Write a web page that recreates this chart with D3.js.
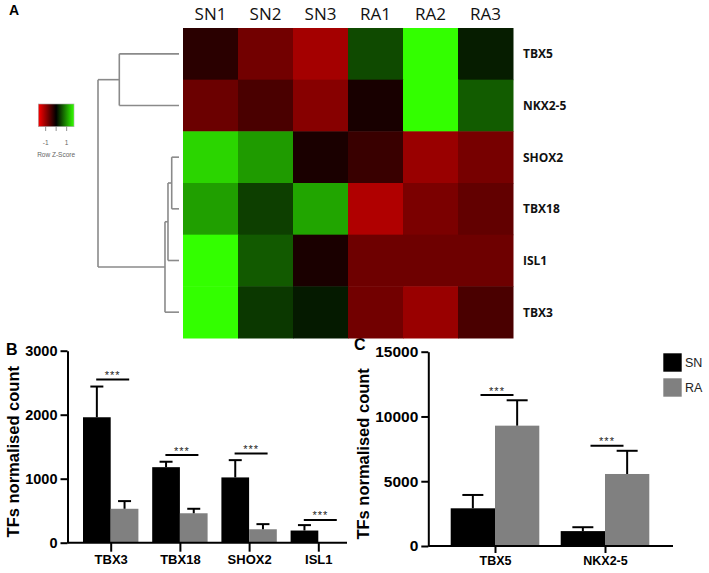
<!DOCTYPE html>
<html>
<head>
<meta charset="utf-8">
<script src="https://cdn.jsdelivr.net/npm/d3@7"></script>
<style>
  html, body { margin: 0; padding: 0; background: #fff; }
  svg { display: block; }
</style>
</head>
<body>
<svg id="chart" width="709" height="573"></svg>
<script>
// ---------------- DATA ----------------
const heatColumns = ["SN1", "SN2", "SN3", "RA1", "RA2", "RA3"];
const heatGenes = ["TBX5", "NKX2-5", "SHOX2", "TBX18", "ISL1", "TBX3"];
const zTBX5  = [-0.28, -0.76, -1.09,  0.49,  1.70,  0.19];
const zNKX25 = [-0.71, -0.49, -0.90, -0.16,  1.70,  0.61];
const zSHOX2 = [ 1.42,  1.03, -0.17, -0.38, -1.02, -0.79];
const zTBX18 = [ 1.06,  0.42,  1.10, -1.17, -0.82, -0.65];
const zISL1  = [ 1.70,  0.60, -0.17, -0.73, -0.73, -0.73];
const zTBX3  = [ 1.70,  0.37,  0.17, -0.76, -1.02, -0.49];
const heatRows = [zTBX5, zNKX25, zSHOX2, zTBX18, zISL1, zTBX3];

// dendrogram merge heights (arbitrary distance units)
const dendroTree = {
  h: 10, children: [
    { h: 7.37, children: [{ name: "TBX5", h: 0 }, { name: "NKX2-5", h: 0 }] },
    { h: 1.73, children: [
        { h: 1.36, children: [
            { h: 0.9, children: [{ name: "SHOX2", h: 0 }, { name: "TBX18", h: 0 }] },
            { name: "ISL1", h: 0 }
        ] },
        { name: "TBX3", h: 0 }
    ] }
  ]
};

const keyTicks = [-1, 0, 1];
const keyLabels = [-1, 1];

// Panel B
const bGenes = ["TBX3", "TBX18", "SHOX2", "ISL1"];
const bSN    = [1960, 1180, 1020, 190];
const bSNerr = [480, 85, 270, 85];
const bRA    = [530, 460, 210, 0];
const bRAerr = [120, 70, 80, 0];
const bSig   = [2550, 1370, 1395, 355];
const bTicks = [0, 1000, 2000, 3000];

// Panel C
const cGenes = ["TBX5", "NKX2-5"];
const cSN    = [2910, 1150];
const cSNerr = [1030, 300];
const cRA    = [9290, 5560];
const cRAerr = [1960, 1790];
const cSig   = [11650, 7740];
const cTicks = [0, 5000, 10000, 15000];

const seriesNames = ["SN", "RA"];
const seriesColors = ["#000000", "#808080"];

// ---------------- DRAW ----------------
const svg = d3.select("#chart");
svg.append("rect").attr("width", 709).attr("height", 573).attr("fill", "#fff");

const boldSans = "'Liberation Sans', Arial, sans-serif";

// Panel letters
svg.append("text").attr("x", 9).attr("y", 15).text("A")
  .attr("font-family", boldSans).attr("font-weight", "bold").attr("font-size", 14);
svg.append("text").attr("x", 6).attr("y", 355).text("B")
  .attr("font-family", boldSans).attr("font-weight", "bold").attr("font-size", 16);
svg.append("text").attr("x", 354).attr("y", 350).text("C")
  .attr("font-family", boldSans).attr("font-weight", "bold").attr("font-size", 16);

// ---- Heatmap ----
const hx = d3.scaleBand().domain(heatColumns).range([183, 513]);
const hy = d3.scaleBand().domain(heatGenes).range([28, 338]);
const color = d3.scaleLinear().domain([-1.7, 0, 1.7])
  .range(["#ff0000", "#000000", "#33ff00"]).clamp(true);

const cells = [];
heatRows.forEach((row, i) => row.forEach((v, j) => cells.push({ g: heatGenes[i], c: heatColumns[j], v })));
svg.append("g").selectAll("rect").data(cells).join("rect")
  .attr("x", d => hx(d.c)).attr("y", d => hy(d.g))
  .attr("width", hx.bandwidth() + 0.5).attr("height", hy.bandwidth() + 0.5)
  .attr("fill", d => color(d.v));

svg.append("g").selectAll("text").data(heatColumns).join("text")
  .attr("x", d => hx(d) + hx.bandwidth() / 2).attr("y", 20)
  .attr("text-anchor", "middle")
  .attr("font-family", "'Open Sans', sans-serif").attr("font-size", 17)
  .attr("fill", "#111").text(d => d);

svg.append("g").selectAll("text").data(heatGenes).join("text")
  .attr("x", 523).attr("y", d => hy(d) + hy.bandwidth() / 2)
  .attr("dominant-baseline", "central")
  .attr("font-family", "'Open Sans', sans-serif").attr("font-weight", "bold")
  .attr("font-size", 12).attr("fill", "#111").text(d => d);

// ---- Dendrogram ----
const root = d3.hierarchy(dendroTree);
const dx = d3.scaleLinear().domain([0, 10]).range([179, 98]);
root.eachAfter(n => {
  if (!n.children) n.yy = hy(n.data.name) + hy.bandwidth() / 2;
  else n.yy = d3.mean(n.children, c => c.yy);
});
const dg = svg.append("g").attr("fill", "none").attr("stroke", "#8a8a8a").attr("stroke-width", 1.6);
root.each(n => {
  if (!n.children) return;
  const ys = n.children.map(c => c.yy);
  dg.append("line").attr("x1", dx(n.data.h)).attr("x2", dx(n.data.h))
    .attr("y1", d3.min(ys)).attr("y2", d3.max(ys));
  n.children.forEach(c => {
    dg.append("line").attr("x1", dx(n.data.h)).attr("x2", dx(c.data.h))
      .attr("y1", c.yy).attr("y2", c.yy);
  });
});

// ---- Color key ----
const kx = d3.scaleLinear().domain([-1.7, 1.7]).range([38.3, 74]);
const defs = svg.append("defs");
const grad = defs.append("linearGradient").attr("id", "keygrad");
d3.range(0, 1.0001, 0.1).forEach(t => {
  grad.append("stop").attr("offset", t).attr("stop-color", color(-1.7 + 3.4 * t));
});
svg.append("rect").attr("x", kx(-1.7)).attr("y", 104)
  .attr("width", kx(1.7) - kx(-1.7)).attr("height", 22.7)
  .attr("fill", "url(#keygrad)").attr("stroke", "#aaa").attr("stroke-width", 0.6);
svg.append("g").selectAll("line").data(keyTicks).join("line")
  .attr("x1", d => kx(d)).attr("x2", d => kx(d)).attr("y1", 126.7).attr("y2", 131)
  .attr("stroke", "#777").attr("stroke-width", 0.8);
svg.append("g").selectAll("text").data(keyLabels).join("text")
  .attr("x", d => kx(d)).attr("y", 145).attr("text-anchor", "middle")
  .attr("font-family", boldSans).attr("font-size", 6.5).attr("fill", "#666").text(d => d);
svg.append("text").attr("x", kx(0)).attr("y", 157).attr("text-anchor", "middle")
  .attr("font-family", boldSans).attr("font-size", 6.5).attr("fill", "#666").text("Row Z-Score");

// ---- Bar panels ----
function barPanel(opt) {
  const g = svg.append("g");
  const y = d3.scaleLinear().domain(opt.yDomain).range(opt.yRange);
  const x = d3.scalePoint().domain(opt.genes).range(opt.xRange);
  const bw = opt.barWidth;

  // bars
  const bars = [];
  opt.genes.forEach((gname, i) => {
    bars.push({ g: gname, s: 0, v: opt.sn[i], e: opt.snErr[i] });
    bars.push({ g: gname, s: 1, v: opt.ra[i], e: opt.raErr[i] });
  });
  g.append("g").selectAll("rect").data(bars.filter(b => b.v > 0)).join("rect")
    .attr("x", d => x(d.g) + (d.s === 0 ? -bw : 0))
    .attr("y", d => y(d.v)).attr("width", bw)
    .attr("height", d => y(0) - y(d.v))
    .attr("fill", d => seriesColors[d.s]);

  // error bars
  const eb = g.append("g").attr("stroke", "#000").attr("stroke-width", 2);
  bars.filter(b => b.e > 0).forEach(d => {
    const cx = x(d.g) + (d.s === 0 ? -bw / 2 : bw / 2);
    eb.append("line").attr("x1", cx).attr("x2", cx).attr("y1", y(d.v)).attr("y2", y(d.v + d.e));
    eb.append("line").attr("x1", cx - opt.cap / 2).attr("x2", cx + opt.cap / 2)
      .attr("y1", y(d.v + d.e)).attr("y2", y(d.v + d.e));
  });

  // significance
  opt.genes.forEach((gname, i) => {
    const cx = x(gname) + 2;
    g.append("line").attr("x1", cx - 16.5).attr("x2", cx + 16.5)
      .attr("y1", y(opt.sig[i])).attr("y2", y(opt.sig[i]))
      .attr("stroke", "#000").attr("stroke-width", 2);
    g.append("text").attr("x", cx).attr("y", y(opt.sig[i]) - 0.5)
      .attr("text-anchor", "middle").attr("font-family", boldSans)
      .attr("font-size", 11).attr("letter-spacing", 1).attr("fill", "#222").text("***");
  });

  // y axis
  const ya = g.append("g").attr("transform", `translate(${opt.axisX},0)`)
    .call(d3.axisLeft(y).tickValues(opt.ticks).tickSize(7).tickSizeOuter(0).tickPadding(3)
      .tickFormat(d3.format("d")));
  ya.select(".domain").attr("stroke-width", 2);
  ya.selectAll(".tick line").attr("stroke-width", 2);
  ya.selectAll("text").attr("font-family", boldSans).attr("font-weight", "bold")
    .attr("font-size", opt.yFont).attr("fill", "#000");

  // x axis
  const xa = g.append("g").attr("transform", `translate(0,${y(0)})`)
    .call(d3.axisBottom(x).tickSize(opt.xTick).tickSizeOuter(0).tickPadding(opt.xPad));
  xa.select(".domain").remove();
  xa.append("line").attr("x1", opt.axisX).attr("x2", opt.axisEnd).attr("y1", 0).attr("y2", 0)
    .attr("stroke", "#000").attr("stroke-width", 2);
  xa.selectAll(".tick line").attr("stroke-width", 2);
  xa.selectAll("text").attr("font-family", boldSans).attr("font-weight", "bold")
    .attr("font-size", opt.xFont).attr("fill", "#000");

  // axis title
  g.append("text")
    .attr("transform", `translate(${opt.titleX},${(opt.yRange[0] + opt.yRange[1]) / 2 + 5}) rotate(-90)`)
    .attr("text-anchor", "middle").attr("font-family", boldSans).attr("font-weight", "bold")
    .attr("font-size", 16.5).attr("fill", "#000").text("TFs normalised count");
  return g;
}

barPanel({
  genes: bGenes, sn: bSN, snErr: bSNerr, ra: bRA, raErr: bRAerr, sig: bSig, ticks: bTicks,
  yDomain: [0, 3000], yRange: [542.7, 350.7], xRange: [110.7, 318.3],
  barWidth: 27.7, cap: 13, axisX: 67.5, axisEnd: 347, xTick: 9, xPad: 3,
  yFont: 14.5, xFont: 13, titleX: 19
});

barPanel({
  genes: cGenes, sn: cSN, snErr: cSNerr, ra: cRA, raErr: cRAerr, sig: cSig, ticks: cTicks,
  yDomain: [0, 15000], yRange: [546, 351.7], xRange: [495, 605],
  barWidth: 44.3, cap: 21, axisX: 428.3, axisEnd: 673, xTick: 7, xPad: 3,
  yFont: 15.5, xFont: 12.5, titleX: 369
});

// Legend C
const lg = svg.append("g");
lg.selectAll("rect").data(seriesNames).join("rect")
  .attr("x", 663.3).attr("y", (d, i) => 353.3 + i * 25)
  .attr("width", 18.4).attr("height", 18.4)
  .attr("fill", (d, i) => seriesColors[i]);
lg.selectAll("text").data(seriesNames).join("text")
  .attr("x", 685).attr("y", (d, i) => 362.5 + i * 25)
  .attr("dominant-baseline", "central")
  .attr("font-family", boldSans).attr("font-size", 12.5).attr("fill", "#222").text(d => d);
</script>
</body>
</html>
